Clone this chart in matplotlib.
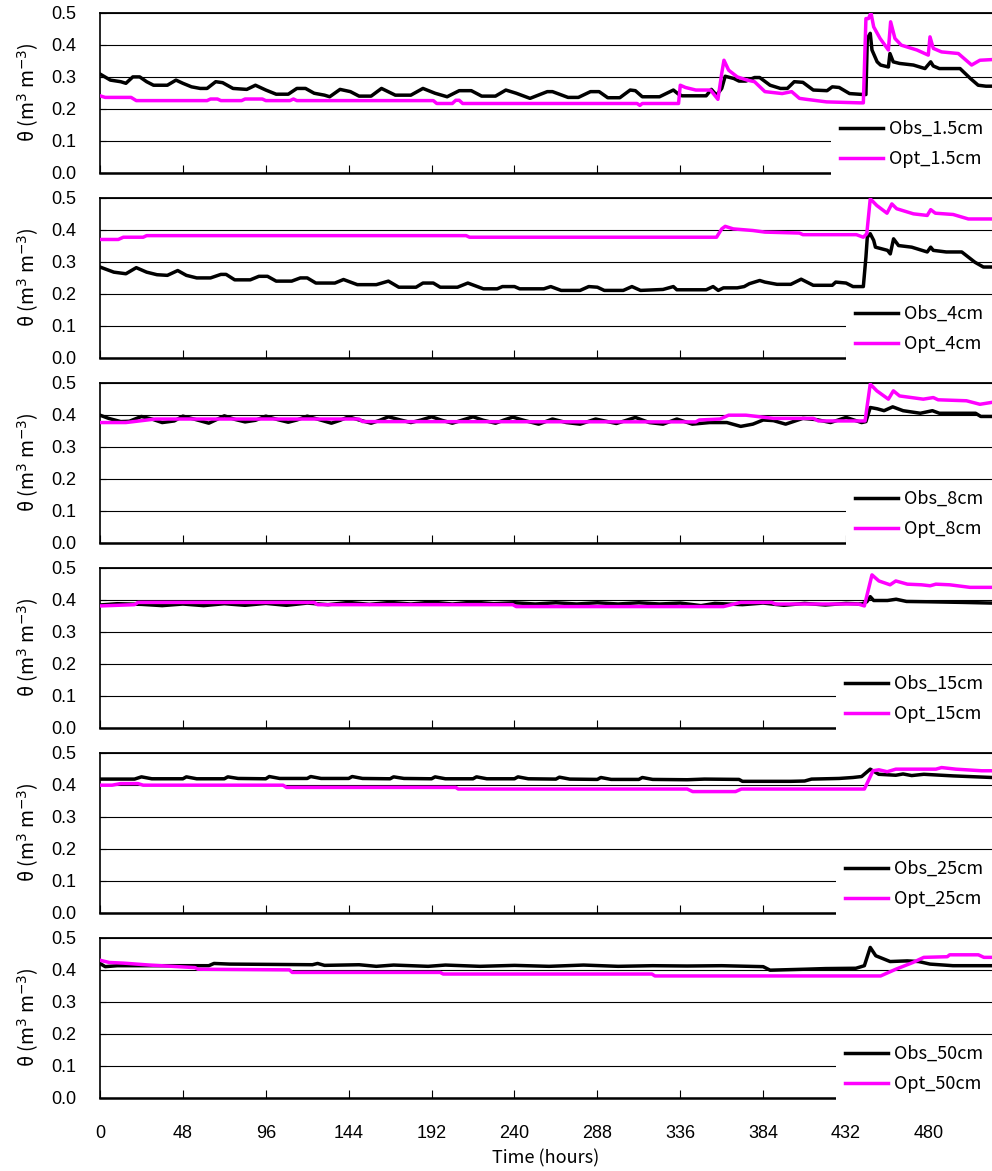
import matplotlib
matplotlib.use('Agg')
import matplotlib.pyplot as plt
import numpy as np

# depth labels
depths = ['1.5cm', '4cm', '8cm', '15cm', '25cm', '50cm']

# ---- 1.5 cm ----
t_obs_1 = [0, 6, 12, 15, 19, 23, 27, 31, 39, 44, 48, 53, 58, 62, 67, 71, 77, 85, 90, 96, 102, 109, 114, 119,
           124, 130, 133, 139, 145, 150, 157, 163, 171, 180, 187, 194, 201, 208, 215, 221, 229, 235, 241, 249,
           259, 262, 271, 277, 284, 289, 294, 301, 307, 310, 314, 324, 332, 335, 337, 351, 354, 357, 360, 362,
           367, 370, 374, 379, 382, 388, 394, 398, 402, 407, 413, 421, 424, 428, 434, 442, 443.5, 444.3, 446,
           447, 450, 452, 456.5, 457.4, 459.3, 463, 471, 477.7, 481, 482.5, 486, 498, 504, 508.5, 513, 516.4]
obs_1 = [0.308, 0.289, 0.284, 0.279, 0.299, 0.299, 0.284, 0.273, 0.273, 0.289, 0.279, 0.268, 0.263, 0.263,
         0.284, 0.281, 0.263, 0.260, 0.273, 0.258, 0.245, 0.245, 0.263, 0.263, 0.248, 0.242, 0.237, 0.260,
         0.253, 0.239, 0.239, 0.263, 0.242, 0.242, 0.263, 0.248, 0.237, 0.256, 0.256, 0.239, 0.239, 0.258,
         0.248, 0.232, 0.253, 0.253, 0.235, 0.235, 0.253, 0.253, 0.234, 0.234, 0.258, 0.256, 0.237, 0.237,
         0.258, 0.245, 0.240, 0.240, 0.260, 0.242, 0.263, 0.301, 0.294, 0.286, 0.286, 0.297, 0.297, 0.273,
         0.263, 0.263, 0.284, 0.282, 0.258, 0.256, 0.268, 0.266, 0.247, 0.244, 0.244, 0.419, 0.435, 0.383,
         0.346, 0.336, 0.330, 0.372, 0.346, 0.341, 0.336, 0.325, 0.346, 0.333, 0.325, 0.325, 0.294, 0.273,
         0.270, 0.270]
t_opt_1 = [0, 3, 18, 21, 62, 64, 68, 70, 82, 84, 94, 96, 110, 112, 114, 193, 195, 204, 206, 208, 210, 311,
           312.6, 314, 335, 336, 339, 345, 353.5, 357.8, 360, 361.3, 364, 369, 374.7, 379, 385, 395, 400.5,
           405, 409, 420.7, 440, 442, 443.5, 445, 446.4, 448, 451.7, 456.5, 457.8, 460.3, 464, 473, 479.6,
           480.6, 482.5, 487.3, 497, 504.7, 509.5, 516.4]
opt_1 = [0.240, 0.235, 0.235, 0.225, 0.225, 0.230, 0.230, 0.225, 0.225, 0.230, 0.230, 0.225, 0.225, 0.230,
         0.225, 0.225, 0.216, 0.216, 0.226, 0.226, 0.216, 0.216, 0.210, 0.216, 0.216, 0.273, 0.266, 0.258,
         0.258, 0.229, 0.310, 0.351, 0.320, 0.299, 0.289, 0.284, 0.253, 0.247, 0.253, 0.232, 0.229, 0.221,
         0.218, 0.218, 0.481, 0.481, 0.499, 0.455, 0.419, 0.383, 0.471, 0.419, 0.398, 0.383, 0.367, 0.424,
         0.388, 0.377, 0.372, 0.336, 0.351, 0.353]

# ---- 4 cm ----
t_obs_2 = [0, 8, 15, 21, 27, 33, 39, 45, 50, 56, 64, 70, 73, 78, 87, 92, 97, 102, 111, 116, 120, 125, 136,
           141, 149, 160, 167, 173, 183, 187, 193, 197, 207, 213, 222, 230, 233, 240, 243, 257, 261, 267, 278,
           283, 288, 292, 303, 308, 313, 326, 332, 334, 351, 355, 358, 361, 369, 373, 376, 382, 385, 392, 400,
           406, 413, 424, 426, 432, 436, 442, 443.5, 444.3, 446, 448, 449, 456, 457.6, 459.5, 462.4, 470, 479,
           481, 482.5, 490, 499, 506.6, 511.5, 516.4]
obs_2 = [0.283, 0.267, 0.262, 0.281, 0.267, 0.259, 0.257, 0.272, 0.257, 0.249, 0.249, 0.260, 0.260, 0.243,
         0.243, 0.254, 0.254, 0.239, 0.239, 0.249, 0.249, 0.233, 0.233, 0.244, 0.228, 0.228, 0.239, 0.220,
         0.220, 0.233, 0.233, 0.220, 0.220, 0.233, 0.215, 0.215, 0.222, 0.222, 0.215, 0.215, 0.222, 0.210,
         0.210, 0.222, 0.220, 0.210, 0.210, 0.222, 0.210, 0.213, 0.222, 0.212, 0.212, 0.222, 0.210, 0.218,
         0.218, 0.222, 0.231, 0.241, 0.236, 0.229, 0.229, 0.245, 0.226, 0.226, 0.236, 0.233, 0.222, 0.222,
         0.314, 0.376, 0.387, 0.366, 0.345, 0.335, 0.324, 0.371, 0.350, 0.345, 0.330, 0.345, 0.335, 0.330,
         0.330, 0.298, 0.283, 0.283]
t_opt_2 = [0, 10.6, 13.5, 25, 27, 212, 214, 357, 360, 362, 366.7, 378, 385, 405, 407, 438, 442, 444, 446,
           449.8, 455.7, 458.5, 461.3, 471, 479, 481, 483.7, 494, 499, 502.8, 516.4]
opt_2 = [0.369, 0.369, 0.376, 0.376, 0.381, 0.381, 0.376, 0.376, 0.402, 0.410, 0.402, 0.397, 0.392, 0.389,
         0.384, 0.384, 0.376, 0.387, 0.496, 0.475, 0.451, 0.480, 0.465, 0.449, 0.444, 0.462, 0.451, 0.447,
         0.439, 0.433, 0.433]

# ---- 8 cm ----
t_obs_3 = [0, 5, 12, 17, 24, 30, 36, 43, 48, 55, 63, 67, 72, 78, 84, 90, 96, 103, 109, 114, 120, 127, 134,
           139, 144, 150, 157, 162, 167, 174, 180, 186, 192, 198, 204, 210, 216, 222, 229, 234, 239, 246, 254,
           262, 270, 278, 287, 299, 310, 318, 326, 334, 343, 353, 363, 371, 378, 384, 390, 397, 407, 415, 423,
           432, 441, 443.5, 446, 450, 454, 459, 465, 475, 482, 486, 507, 510, 516.4]
obs_3 = [0.398, 0.388, 0.378, 0.379, 0.394, 0.386, 0.375, 0.380, 0.395, 0.385, 0.373, 0.383, 0.396, 0.385,
         0.377, 0.382, 0.395, 0.384, 0.376, 0.383, 0.395, 0.384, 0.373, 0.382, 0.393, 0.383, 0.373, 0.382,
         0.393, 0.383, 0.375, 0.383, 0.393, 0.382, 0.373, 0.383, 0.393, 0.382, 0.373, 0.383, 0.392, 0.381,
         0.370, 0.386, 0.375, 0.370, 0.386, 0.372, 0.391, 0.375, 0.370, 0.386, 0.370, 0.375, 0.375, 0.363,
         0.370, 0.383, 0.381, 0.370, 0.388, 0.384, 0.375, 0.391, 0.375, 0.378, 0.422, 0.418, 0.412, 0.424,
         0.412, 0.404, 0.412, 0.404, 0.404, 0.394, 0.394]
t_opt_3 = [0, 15, 32, 150, 152, 345, 347, 359, 364, 374, 390, 413, 416, 443, 446, 449.8, 456.5, 459.4, 463,
           476.7, 482.5, 485.3, 501.7, 509.5, 516.4]
opt_3 = [0.375, 0.375, 0.386, 0.386, 0.378, 0.377, 0.383, 0.386, 0.398, 0.398, 0.388, 0.388, 0.380, 0.380,
         0.495, 0.474, 0.448, 0.474, 0.458, 0.448, 0.453, 0.446, 0.443, 0.432, 0.438]

# ---- 15 cm ----
t_obs_4 = [0, 10, 24, 36, 48, 60, 72, 84, 96, 108, 120, 132, 144, 156, 168, 180, 192, 204, 216, 228, 240,
           252, 264, 276, 288, 300, 312, 324, 336, 348, 356, 372, 384, 396, 408, 420, 432, 441, 444, 446, 448,
           456, 461, 467, 480, 500, 516.4]
obs_4 = [0.383, 0.387, 0.385, 0.381, 0.386, 0.381, 0.387, 0.382, 0.388, 0.382, 0.389, 0.384, 0.391, 0.385,
         0.391, 0.386, 0.392, 0.386, 0.392, 0.387, 0.390, 0.386, 0.390, 0.386, 0.390, 0.386, 0.390, 0.386,
         0.389, 0.381, 0.388, 0.384, 0.389, 0.382, 0.388, 0.383, 0.388, 0.386, 0.393, 0.409, 0.397, 0.397,
         0.401, 0.394, 0.393, 0.391, 0.389]
t_opt_4 = [0, 20, 22, 124, 126, 239, 241, 361, 371, 389, 391, 439, 442.6, 447, 451, 457.5, 460.8, 467.5,
           475.7, 480.7, 484, 492, 503.8, 516.4]
opt_4 = [0.380, 0.384, 0.391, 0.391, 0.384, 0.384, 0.378, 0.378, 0.391, 0.391, 0.386, 0.386, 0.380, 0.477,
         0.458, 0.446, 0.458, 0.448, 0.446, 0.443, 0.448, 0.446, 0.438, 0.438]

# ---- 25 cm ----
t_obs_5 = [0, 20, 24, 30, 48, 50, 56, 72, 74, 80, 96, 98, 104, 120, 122, 128, 144, 146, 152, 168, 170, 176,
           192, 194, 200, 216, 218, 224, 240, 242, 248, 264, 266, 272, 288, 290, 296, 312, 314, 320, 340, 350,
           370, 372, 400, 408, 412, 428, 436, 441, 446, 450.9, 460.8, 465, 470, 477, 494, 516.4]
obs_5 = [0.417, 0.417, 0.424, 0.418, 0.418, 0.424, 0.418, 0.418, 0.424, 0.419, 0.418, 0.425, 0.419, 0.419,
         0.425, 0.419, 0.419, 0.425, 0.419, 0.418, 0.424, 0.419, 0.418, 0.424, 0.418, 0.418, 0.424, 0.418,
         0.418, 0.424, 0.418, 0.417, 0.423, 0.417, 0.416, 0.422, 0.416, 0.416, 0.422, 0.416, 0.415, 0.417,
         0.416, 0.410, 0.410, 0.411, 0.417, 0.419, 0.422, 0.425, 0.448, 0.432, 0.429, 0.433, 0.428, 0.432,
         0.427, 0.422]
t_opt_5 = [0, 7, 12, 22, 25, 106, 108, 206, 207.4, 340, 343.2, 368, 371.4, 442.6, 447.6, 451, 455.8, 460.8,
           484, 487.3, 495.6, 510.5, 516.4]
opt_5 = [0.398, 0.398, 0.403, 0.403, 0.398, 0.398, 0.391, 0.391, 0.386, 0.386, 0.378, 0.378, 0.386, 0.386,
         0.443, 0.446, 0.440, 0.448, 0.448, 0.453, 0.448, 0.443, 0.443]

# ---- 50 cm ----
t_obs_6 = [0, 3, 10, 63, 66, 75, 100, 123, 126, 130, 150, 160, 170, 190, 200, 220, 240, 260, 280, 300, 320,
           340, 360, 384, 388, 408, 420, 437.7, 442.6, 446, 449.2, 457.5, 467.4, 474, 480.6, 493.9, 516.4]
obs_6 = [0.419, 0.409, 0.412, 0.412, 0.419, 0.417, 0.416, 0.415, 0.419, 0.413, 0.415, 0.410, 0.414, 0.410,
         0.414, 0.410, 0.413, 0.410, 0.414, 0.410, 0.412, 0.411, 0.412, 0.409, 0.398, 0.401, 0.403, 0.404,
         0.412, 0.469, 0.443, 0.425, 0.427, 0.425, 0.417, 0.412, 0.412]
t_opt_6 = [0, 5.4, 13.7, 28.6, 55, 56.7, 109.7, 111.3, 197, 198.7, 319.6, 321.3, 452, 460.8, 470.7, 477,
           490.6, 492, 508.6, 511.8, 516.4]
opt_6 = [0.429, 0.422, 0.420, 0.414, 0.406, 0.401, 0.399, 0.391, 0.391, 0.386, 0.386, 0.380, 0.380, 0.401,
         0.422, 0.438, 0.440, 0.446, 0.446, 0.438, 0.438]

obs_t = [t_obs_1, t_obs_2, t_obs_3, t_obs_4, t_obs_5, t_obs_6]
obs_v = [obs_1, obs_2, obs_3, obs_4, obs_5, obs_6]
opt_t = [t_opt_1, t_opt_2, t_opt_3, t_opt_4, t_opt_5, t_opt_6]
opt_v = [opt_1, opt_2, opt_3, opt_4, opt_5, opt_6]

x_ticks = [0, 48, 96, 144, 192, 240, 288, 336, 384, 432, 480]
y_ticks = [0.0, 0.1, 0.2, 0.3, 0.4, 0.5]

W, H = 992, 1171
fig = plt.figure(figsize=(W / 100, H / 100), dpi=100)

tick_font = 'Liberation Sans'
label_font = ['Noto Sans CJK JP', 'DejaVu Sans']

for i in range(6):
    top_px = 12.5 + 185 * i
    bot_px = 172.7 + 185 * i
    ax = fig.add_axes([100 / W, 1 - bot_px / H, 1 - 100 / W, (bot_px - top_px) / H])

    ax.plot(obs_t[i], obs_v[i], color='black', lw=2.5, label='Obs_' + depths[i], zorder=3)
    ax.plot(opt_t[i], opt_v[i], color='#ff00ff', lw=2.5, label='Opt_' + depths[i], zorder=4)

    ax.set_xlim(0, 516.5)
    ax.set_ylim(0, 0.5)
    ax.set_yticks(y_ticks)
    ax.set_yticklabels([f'{v:.1f}' for v in y_ticks], fontfamily=tick_font, fontsize=13)
    ax.set_xticks(x_ticks)
    ax.grid(axis='y', color='black', lw=0.8)
    ax.set_axisbelow(True)

    ax.tick_params(axis='x', direction='in', length=6, width=0.8, pad=20)
    ax.tick_params(axis='y', direction='in', length=4, width=0.8, pad=17)
    if i < 5:
        ax.set_xticklabels([])
    else:
        ax.set_xticklabels([str(v) for v in x_ticks], fontfamily=tick_font, fontsize=13)
        ax.set_xlabel('Time (hours)', fontfamily=label_font, fontsize=13, labelpad=5)

    for side in ['left', 'top', 'bottom']:
        ax.spines[side].set_color('black')
    ax.spines['left'].set_linewidth(1.2)
    ax.spines['top'].set_linewidth(1.3)
    ax.spines['bottom'].set_linewidth(1.8)
    ax.spines['right'].set_visible(False)

    ax.set_ylabel(r'θ (m$^{3}$ m$^{-3}$)', fontfamily=label_font, fontsize=14)
    ax.yaxis.set_label_coords(-0.066, 0.5)

    leg = ax.legend(loc='lower right', bbox_to_anchor=(1.0, -0.03), frameon=True, fancybox=False,
                    framealpha=1, facecolor='white', edgecolor='none', borderaxespad=0,
                    handlelength=2.4, handletextpad=0.3, labelspacing=0.7, borderpad=0.5,
                    prop={'family': label_font, 'size': 13})
    leg.set_zorder(10)

fig.savefig('out.png', dpi=100)
